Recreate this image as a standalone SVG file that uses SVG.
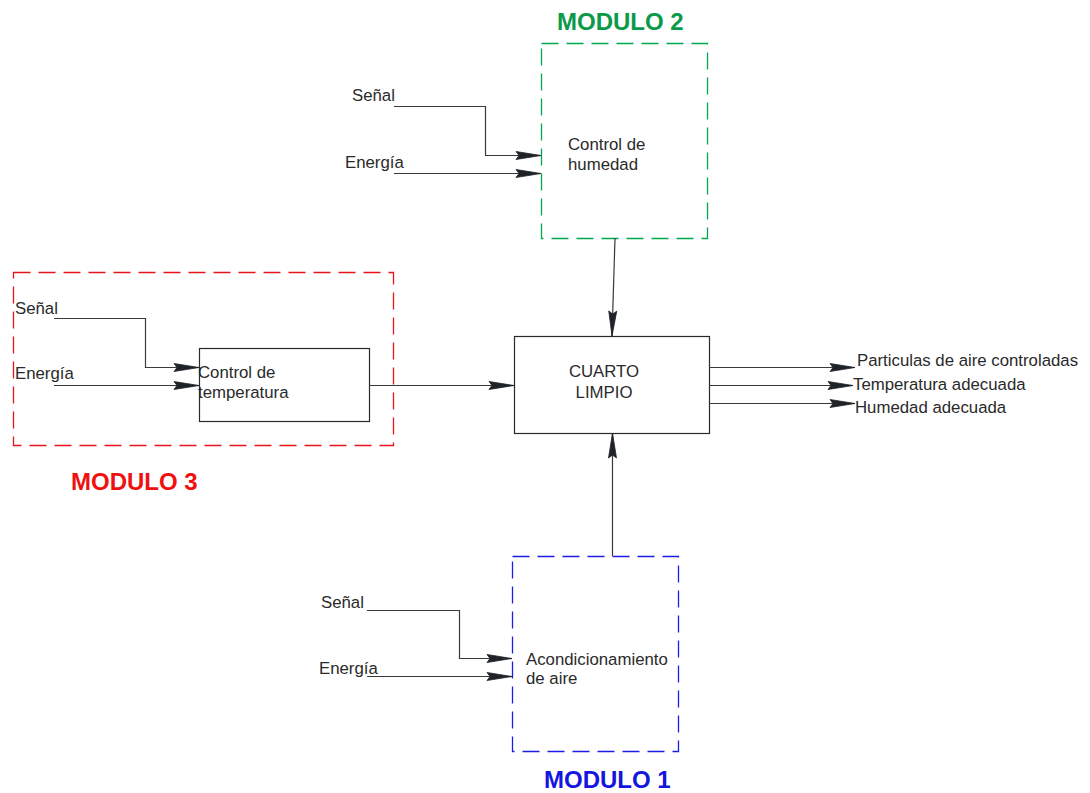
<svg xmlns="http://www.w3.org/2000/svg" width="1090" height="793" viewBox="0 0 1090 793">
<style>
  text{font-family:"Liberation Sans",Arial,sans-serif;font-size:16.8px;fill:#2a2a2a}
  .hdr{font-weight:bold;font-size:24px}
  .line{stroke:#3a3a3a;stroke-width:1.2;fill:none}
  .box{stroke:#2a2a2a;stroke-width:1.2;fill:#fff}
  .dash{fill:none;stroke-width:1.3;stroke-dasharray:17 8}
</style>
<defs>
  <marker id="arr" markerUnits="userSpaceOnUse" markerWidth="28" markerHeight="12" refX="26" refY="6" orient="auto">
    <path d="M1,2 L26,6 L1,10 L4,6 Z" fill="#1f2328" stroke="#1f2328" stroke-width="0.8"/>
  </marker>
</defs>
<rect width="1090" height="793" fill="#fff"/>

<g id="modulo2">
  <rect x="541.5" y="43.5" width="166" height="195" class="dash" stroke="#00a850"/>
  <text x="557" y="30" class="hdr" style="fill:#0a9a4a">MODULO 2</text>
  <text x="568" y="150">Control de</text>
  <text x="568" y="170">humedad</text>
  <text x="352" y="101">Señal</text>
  <text x="345" y="168">Energía</text>
</g>

<g id="modulo3">
  <rect x="13.5" y="272.5" width="380" height="173" class="dash" stroke="#e8141c"/>
  <text x="71" y="490" class="hdr" style="fill:#f01010">MODULO 3</text>
  <text x="15" y="314">Señal</text>
  <text x="15" y="379">Energía</text>
</g>

<g id="control-temperatura">
  <rect x="199.5" y="348.5" width="170" height="73" class="box"/>
  <text x="198" y="378">Control de</text>
  <text x="198" y="398">temperatura</text>
</g>

<g id="cuarto-limpio">
  <rect x="514.5" y="336.5" width="195" height="97" class="box"/>
  <text x="604" y="377" text-anchor="middle">CUARTO</text>
  <text x="604" y="398" text-anchor="middle">LIMPIO</text>
</g>

<g id="salidas">
  <text x="857" y="366">Particulas de aire controladas</text>
  <text x="853" y="390">Temperatura adecuada</text>
  <text x="855" y="413">Humedad adecuada</text>
</g>

<g id="modulo1">
  <rect x="512.5" y="556.5" width="166" height="195" class="dash" stroke="#1c1ce8"/>
  <text x="544" y="788" class="hdr" style="fill:#1515e0">MODULO 1</text>
  <text x="526" y="665">Acondicionamiento</text>
  <text x="526" y="684">de aire</text>
  <text x="321" y="608">Señal</text>
  <text x="319" y="674">Energía</text>
</g>

<g id="connectors">
  <path class="line" d="M394,106.5 H485.5 V155.5 H541" marker-end="url(#arr)"/>
  <path class="line" d="M394,173.5 H541" marker-end="url(#arr)"/>
  <path class="line" d="M615,238 L612,336" marker-end="url(#arr)"/>
  <path class="line" d="M54,318.5 H145.5 V367.5 H199" marker-end="url(#arr)"/>
  <path class="line" d="M54,385.5 H199" marker-end="url(#arr)"/>
  <path class="line" d="M369,385.5 H514" marker-end="url(#arr)"/>
  <path class="line" d="M709,367.5 H855" marker-end="url(#arr)"/>
  <path class="line" d="M709,385.5 H853" marker-end="url(#arr)"/>
  <path class="line" d="M709,403.5 H855" marker-end="url(#arr)"/>
  <path class="line" d="M612.5,556 V433" marker-end="url(#arr)"/>
  <path class="line" d="M367,610.5 H459.5 V658.5 H512" marker-end="url(#arr)"/>
  <path class="line" d="M367,676.5 H512" marker-end="url(#arr)"/>
</g>
</svg>
